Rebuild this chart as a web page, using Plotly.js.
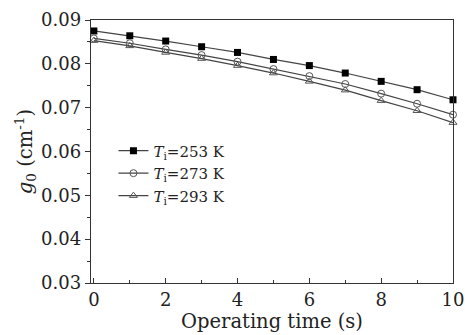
<!DOCTYPE html>
<html><head><meta charset="utf-8">
<script src="https://cdn.plot.ly/plotly-3.0.1.min.js"></script>
<style>html,body{margin:0;padding:0;background:#fff}#chart{width:465px;height:335px}</style>
</head><body><div id="chart"></div>
<script>
const times = [0,1,2,3,4,5,6,7,8,9,10];
const g253 = [0.0875,0.0864,0.0852,0.0839,0.0826,0.0810,0.0796,0.0779,0.0760,0.0741,0.0718];
const g273 = [0.0858,0.0847,0.0833,0.0820,0.0805,0.0788,0.0772,0.0754,0.0732,0.0709,0.0684];
const g293 = [0.0853,0.0841,0.0826,0.0812,0.0796,0.0779,0.0760,0.0740,0.0716,0.0693,0.0666];
const names = ['<i>T</i><sub>i</sub>=253 K','<i>T</i><sub>i</sub>=273 K','<i>T</i><sub>i</sub>=293 K'];
const xTicks = [0,2,4,6,8,10];
const yTicks = [0.03,0.04,0.05,0.06,0.07,0.08,0.09];

const lineC = '#444';
const traces = [
 {x:times,y:g253,name:names[0],mode:'lines+markers',line:{color:lineC,width:1.2},
  marker:{symbol:'square',size:7,color:'#000',line:{color:'#000',width:0}},cliponaxis:false},
 {x:times,y:g273,name:names[1],mode:'lines+markers',line:{color:lineC,width:1.2},
  marker:{symbol:'circle-open',size:7,color:'#555',line:{width:1}},cliponaxis:false},
 {x:times,y:g293,name:names[2],mode:'lines+markers',line:{color:lineC,width:1.2},
  marker:{symbol:'triangle-up-open',size:7,color:'#555',line:{width:1}},cliponaxis:false}
];
const fam = '"DejaVu Serif","Liberation Serif",serif';
const layout = {
 width:465,height:335,
 margin:{l:91,r:12,t:20,b:52},
 paper_bgcolor:'#fff',plot_bgcolor:'#fff',
 font:{family:fam,color:'#222',size:18},
 showlegend:true,
 legend:{x:0.062,y:0.565,xanchor:'left',yanchor:'top',bgcolor:'rgba(0,0,0,0)',
   font:{family:fam,size:15,color:'#222'},tracegroupgap:0,itemwidth:30},
 xaxis:{range:[-0.08,10],tickvals:xTicks,ticktext:xTicks.map(String),
   ticks:'inside',ticklen:5,tickcolor:'#333',showline:true,linecolor:'#333',linewidth:1.3,
   mirror:true,showgrid:false,zeroline:false,
   minor:{dtick:1,tick0:0,ticks:'inside',ticklen:3,tickcolor:'#333',showgrid:false},
   tickfont:{size:18},
   title:{text:'Operating time (s)',font:{size:19.5},standoff:0}},
 yaxis:{range:[0.03,0.09],tickvals:yTicks,ticktext:yTicks.map(v=>v.toFixed(2)),
   ticks:'outside',ticklen:5,tickcolor:'#333',showline:true,linecolor:'#333',linewidth:1.3,
   mirror:true,showgrid:false,zeroline:false,
   minor:{dtick:0.005,tick0:0.03,ticks:'outside',ticklen:3,tickcolor:'#333',showgrid:false},
   tickfont:{size:18},
   title:{text:'<i>g</i><sub>0</sub> (cm<sup>-1</sup>)',font:{size:19.5},standoff:3}}
};
Plotly.newPlot('chart',traces,layout,{displayModeBar:false,staticPlot:true});
</script></body></html>
